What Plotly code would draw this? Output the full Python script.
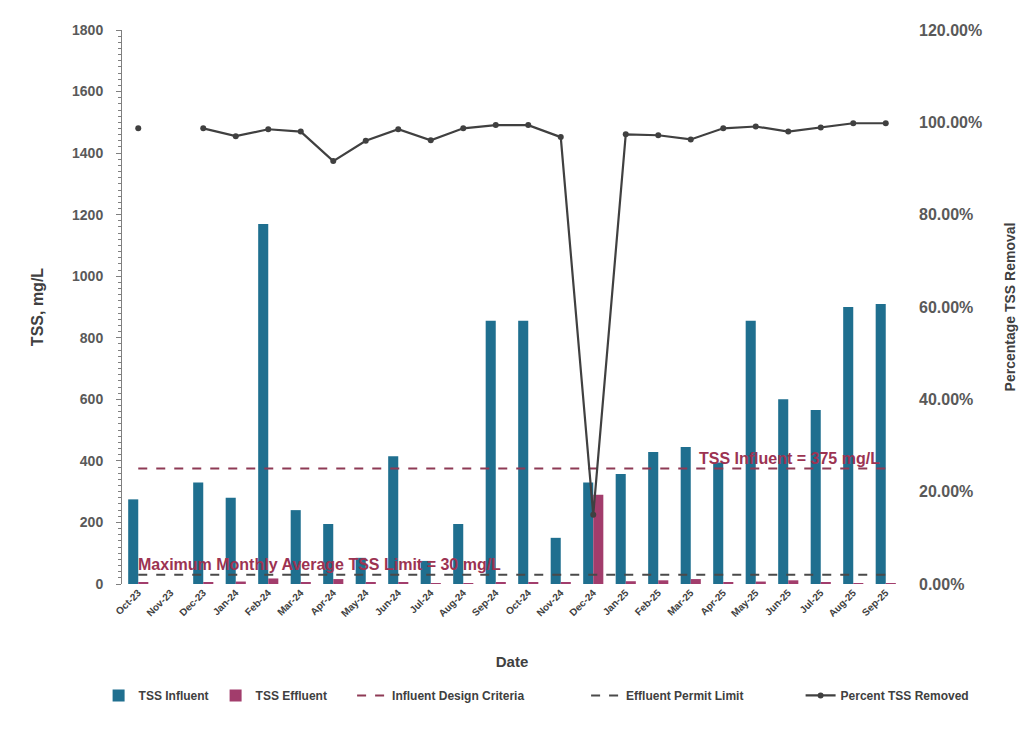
import plotly.graph_objects as go

months = ["Oct-23", "Nov-23", "Dec-23", "Jan-24", "Feb-24", "Mar-24", "Apr-24", "May-24",
          "Jun-24", "Jul-24", "Aug-24", "Sep-24", "Oct-24", "Nov-24", "Dec-24", "Jan-25",
          "Feb-25", "Mar-25", "Apr-25", "May-25", "Jun-25", "Jul-25", "Aug-25", "Sep-25"]

tss_influent = [275, None, 330, 280, 1170, 240, 195, 85, 415, 75, 195, 855,
                855, 150, 330, 357, 429, 445, 395, 855, 600, 565, 900, 910]

tss_effluent = [3.5, None, 4, 8, 18, 5, 16, 3.5, 6, 3, 2.5, 5,
                5, 5, 290, 9, 12, 16, 5, 8, 12, 6, 2, 2]

pct_removed = [0.987, None, 0.987, 0.970, 0.985, 0.980, 0.916, 0.960, 0.985, 0.961, 0.987, 0.994,
               0.994, 0.968, 0.15, 0.974, 0.972, 0.963, 0.987, 0.991, 0.980, 0.989, 0.998, 0.998]

influent_design = 375
effluent_permit = 30

yticks_left = [0, 200, 400, 600, 800, 1000, 1200, 1400, 1600, 1800]
yticks_right = [0.0, 0.2, 0.4, 0.6, 0.8, 1.0, 1.2]

FONT = "Liberation Sans"
GREY = "#595959"
DARK = "#404040"

fig = go.Figure()

fig.add_trace(go.Bar(x=months, y=tss_influent, name="TSS Influent", legend="legend",
                     marker=dict(color="#1f6f8f", line=dict(width=0))))
fig.add_trace(go.Bar(x=months, y=tss_effluent, name="TSS Effluent", legend="legend2",
                     marker=dict(color="#a23d6c", line=dict(width=0))))

fig.add_trace(go.Scatter(x=months, y=[influent_design] * len(months), mode="lines",
                         name="Influent Design Criteria", legend="legend3",
                         line=dict(color="#8e3a55", width=2, dash="dash")))
fig.add_trace(go.Scatter(x=months, y=[effluent_permit] * len(months), mode="lines",
                         name="Effluent Permit Limit", legend="legend4",
                         line=dict(color="#4a4a4a", width=2, dash="dash")))

fig.add_trace(go.Scatter(x=months, y=pct_removed, mode="lines+markers",
                         name="Percent TSS Removed", yaxis="y2", legend="legend5",
                         line=dict(color=DARK, width=2.2),
                         marker=dict(color=DARK, size=6)))

fig.add_annotation(x=months[-1], y=influent_design, xref="x", yref="y",
                   text="<b>TSS Influent = 375 mg/L</b>", showarrow=False,
                   xanchor="right", yanchor="bottom", xshift=-4, yshift=0,
                   font=dict(family=FONT, size=16, color="#9c3352"))
fig.add_annotation(x=months[0], y=effluent_permit, xref="x", yref="y",
                   text="<b>Maximum Monthly Average TSS Limit = 30 mg/L</b>", showarrow=False,
                   xanchor="left", yanchor="bottom", xshift=-2, yshift=0,
                   font=dict(family=FONT, size=16, color="#9c3352"))

# one legend box per series, laid out along the bottom
legend_style = dict(orientation="h", y=-0.175, yanchor="top", xanchor="left",
                    font=dict(family=FONT, size=12, color=DARK, weight="bold"),
                    itemwidth=30, bgcolor="rgba(0,0,0,0)")
legend_x = [-0.03, 0.12, 0.295, 0.595, 0.87]

fig.update_layout(
    width=1032, height=745,
    margin=dict(l=122, r=130, t=30, b=161),
    paper_bgcolor="white", plot_bgcolor="white",
    font=dict(family=FONT, color=GREY),
    barmode="group", bargap=0.38, bargroupgap=0.0,
    showlegend=True,
    legend=dict(x=legend_x[0], **legend_style),
    legend2=dict(x=legend_x[1], **legend_style),
    legend3=dict(x=legend_x[2], **legend_style),
    legend4=dict(x=legend_x[3], **legend_style),
    legend5=dict(x=legend_x[4], **legend_style),
    xaxis=dict(title=dict(text="<b>Date</b>", font=dict(family=FONT, size=15, color=DARK),
                          standoff=38),
               range=[-0.5, 23.5],
               tickangle=-45, tickfont=dict(family=FONT, size=10, color=DARK, weight="bold"),
               showline=False, showgrid=False, ticks=""),
    yaxis=dict(title=dict(text="<b>TSS, mg/L</b>", font=dict(family=FONT, size=16, color=DARK),
                          standoff=24),
               range=[0, 1800], tickvals=yticks_left,
               tickfont=dict(family=FONT, size=14, color=GREY, weight="bold"),
               ticklabelstandoff=10,
               showline=True, linecolor="#7f7f7f", linewidth=1,
               ticks="outside", ticklen=5, tickcolor="#7f7f7f",
               minor=dict(ticks="outside", ticklen=3, dtick=20, tickcolor="#7f7f7f"),
               showgrid=False, zeroline=False),
    yaxis2=dict(title=dict(text="<b>Percentage TSS Removal</b>",
                           font=dict(family=FONT, size=14, color=DARK), standoff=24),
                overlaying="y", side="right", range=[0, 1.2], tickvals=yticks_right,
                tickformat=".2%", tickfont=dict(family=FONT, size=16, color=GREY, weight="bold"),
                ticklabelstandoff=16,
                showline=False, showgrid=False, zeroline=False, ticks=""),
)

fig.write_html("out.html")
